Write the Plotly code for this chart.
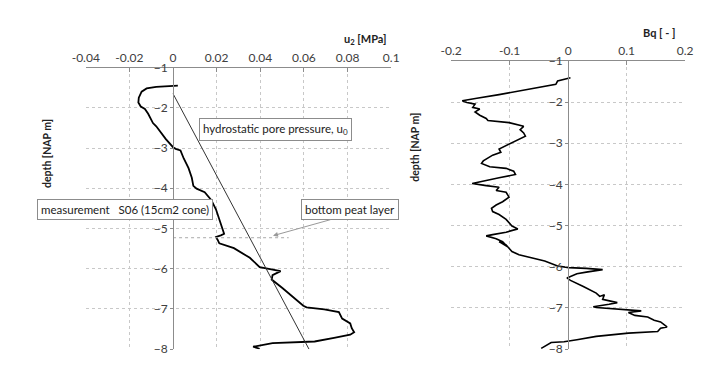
import plotly.graph_objects as go

# left panel: measured pore pressure u2 [MPa] vs depth [NAP m]
u2_vals = [0.0022, 0.0, -0.0077, -0.0121, -0.0144, -0.0157, -0.0159, -0.0148, -0.0129, -0.0114,
           -0.0092, -0.0077, -0.0055, -0.0033, 0.0, 0.0012, 0.0034, 0.0049, 0.0071, 0.0086,
           0.0093, 0.0108, 0.0145, 0.0175, 0.0197, 0.0212, 0.0227, 0.0234, 0.0219, 0.0197,
           0.0204, 0.0212, 0.0279, 0.0352, 0.0397, 0.0434, 0.0493, 0.0456, 0.0452, 0.0501,
           0.0545, 0.0597, 0.0612, 0.0693, 0.076, 0.0775, 0.0812, 0.0819, 0.083, 0.0812,
           0.0738, 0.0649, 0.0456, 0.0397, 0.0367, 0.0397]
u2_depth = [-1.45, -1.46, -1.48, -1.52, -1.60, -1.75, -1.87, -1.97, -2.03, -2.15,
            -2.38, -2.46, -2.62, -2.78, -2.98, -3.02, -3.06, -3.26, -3.50, -3.74,
            -3.94, -4.01, -4.10, -4.29, -4.53, -4.77, -5.01, -5.13, -5.17, -5.21,
            -5.28, -5.37, -5.49, -5.73, -5.96, -6.00, -6.06, -6.16, -6.27, -6.48,
            -6.68, -6.92, -6.96, -7.01, -7.08, -7.24, -7.36, -7.48, -7.58, -7.64,
            -7.72, -7.81, -7.85, -7.91, -7.94, -7.99]

# hydrostatic pore pressure u0
u0_vals = [0.0, 0.0623]
u0_depth = [-1.65, -8.0]

# bottom of peat layer
peat_x = [0.0, 0.053]
peat_depth = [-5.23, -5.23]

# right panel: Bq [-] vs depth
bq_vals = [0.004, -0.018, -0.021, -0.040, -0.073, -0.118, -0.156, -0.181, -0.173, -0.159,
           -0.163, -0.151, -0.159, -0.151, -0.140, -0.137, -0.101, -0.084, -0.076, -0.082,
           -0.076, -0.073, -0.084, -0.096, -0.118, -0.115, -0.129, -0.145, -0.148, -0.134,
           -0.106, -0.093, -0.090, -0.118, -0.145, -0.164, -0.140, -0.118, -0.123, -0.106,
           -0.101, -0.112, -0.123, -0.131, -0.129, -0.118, -0.106, -0.096, -0.086, -0.106,
           -0.129, -0.140, -0.123, -0.112, -0.104, -0.118, -0.106, -0.096, -0.084, -0.062,
           -0.040, -0.018, 0.001, 0.031, 0.059, 0.031, 0.015, -0.002, 0.004, 0.026,
           0.048, 0.054, 0.062, 0.059, 0.084, 0.070, 0.043, 0.048, 0.081, 0.125,
           0.103, 0.114, 0.136, 0.147, 0.158, 0.169, 0.158, 0.153, 0.103, 0.048,
           0.015, -0.007, -0.029, -0.038, -0.046]
bq_depth = [-1.41, -1.49, -1.57, -1.62, -1.72, -1.82, -1.91, -1.97, -2.01, -2.05,
            -2.13, -2.17, -2.24, -2.32, -2.40, -2.45, -2.50, -2.56, -2.59, -2.67,
            -2.75, -2.83, -2.91, -2.98, -3.14, -3.22, -3.29, -3.43, -3.49, -3.57,
            -3.61, -3.68, -3.76, -3.84, -3.92, -3.98, -4.03, -4.07, -4.15, -4.19,
            -4.31, -4.42, -4.50, -4.58, -4.66, -4.73, -4.85, -5.01, -5.08, -5.16,
            -5.22, -5.25, -5.32, -5.39, -5.51, -5.39, -5.47, -5.63, -5.71, -5.78,
            -5.86, -5.98, -6.02, -6.04, -6.07, -6.13, -6.17, -6.27, -6.33, -6.48,
            -6.64, -6.72, -6.68, -6.79, -6.87, -6.91, -6.97, -6.99, -7.03, -7.07,
            -7.11, -7.18, -7.22, -7.30, -7.34, -7.46, -7.49, -7.57, -7.61, -7.69,
            -7.77, -7.82, -7.84, -7.92, -7.98]

u2_ticks = [-0.04, -0.02, 0, 0.02, 0.04, 0.06, 0.08, 0.1]
u2_ticktext = ['-0.04', '-0.02', '0', '0.02', '0.04', '0.06', '0.08', '0.1']
bq_ticks = [-0.2, -0.1, 0, 0.1, 0.2]
bq_ticktext = ['-0.2', '-0.1', '0', '0.1', '0.2']
depth_ticks = [-1, -2, -3, -4, -5, -6, -7, -8]

FONT = 'Lato'
TXT = '#404040'
GRID = '#c8c8c8'
AXL = '#8c8c8c'

dom1 = [0.1018, 0.5351]
dom2 = [0.620, 0.952]
ydom1 = [0.0576, 0.8355]
ydom2 = [0.0576, 0.854]
xr1 = [-0.04, 0.1]
xr2 = [-0.2, 0.2]


def zero_pos(dom, xr):
    # paper position of value 0 on an x axis, where the depth axis crosses
    return dom[0] + (0 - xr[0]) / (xr[1] - xr[0]) * (dom[1] - dom[0])


fig = go.Figure()
fig.add_trace(go.Scatter(x=u2_vals, y=u2_depth, mode='lines', line=dict(color='black', width=1.8),
                         xaxis='x', yaxis='y', showlegend=False))
fig.add_trace(go.Scatter(x=u0_vals, y=u0_depth, mode='lines', line=dict(color='#333333', width=1),
                         xaxis='x', yaxis='y', showlegend=False))
fig.add_trace(go.Scatter(x=peat_x, y=peat_depth, mode='lines', line=dict(color='#aaaaaa', width=1, dash='dot'),
                         xaxis='x', yaxis='y', showlegend=False))
fig.add_trace(go.Scatter(x=bq_vals, y=bq_depth, mode='lines', line=dict(color='black', width=1.6),
                         xaxis='x2', yaxis='y2', showlegend=False))

xcommon = dict(side='top', showline=True, linecolor=AXL, linewidth=1, ticks='inside', ticklen=4,
               tickcolor=AXL, showgrid=True, gridcolor=GRID, griddash='dot', gridwidth=1,
               zeroline=False, tickfont=dict(family=FONT, size=12, color=TXT))
ycommon = dict(range=[-8, -1], tickvals=depth_ticks, showline=True, linecolor=AXL, linewidth=1,
               ticks='outside', ticklen=3, tickcolor=AXL, showgrid=True, gridcolor=GRID,
               griddash='dot', zeroline=False, anchor='free',
               tickfont=dict(family=FONT, size=12, color=TXT))

fig.update_layout(
    width=727, height=377,
    margin=dict(l=0, r=0, t=0, b=0),
    paper_bgcolor='white', plot_bgcolor='white',
    xaxis=dict(domain=dom1, range=xr1, tickvals=u2_ticks, ticktext=u2_ticktext, anchor='y', **xcommon),
    yaxis=dict(domain=ydom1, position=zero_pos(dom1, xr1), **ycommon),
    xaxis2=dict(domain=dom2, range=xr2, tickvals=bq_ticks, ticktext=bq_ticktext, anchor='y2', **xcommon),
    yaxis2=dict(domain=ydom2, position=zero_pos(dom2, xr2), **ycommon),
)

box = dict(bordercolor='#8c8c8c', borderwidth=1, bgcolor='white', borderpad=3,
           font=dict(family=FONT, size=11.5, color='#222222'), showarrow=False,
           xanchor='center', yanchor='middle')
fig.add_annotation(x=0.047, y=-2.55, xref='x', yref='y', text='hydrostatic pore pressure, u<sub>0</sub>', **box)
fig.add_annotation(x=-0.0218, y=-4.53, xref='x', yref='y', text='measurement   S06 (15cm2 cone)', **box)
fig.add_annotation(x=0.081, y=-4.53, xref='x', yref='y', text='bottom peat layer', **box)
fig.add_annotation(x=0.0458, y=-5.18, xref='x', yref='y', ax=0.0729, ay=-4.77, axref='x', ayref='y',
                   text='', showarrow=True, arrowhead=2, arrowsize=1, arrowwidth=1, arrowcolor='#999999')

title_font = dict(family=FONT, size=11, color='#222222')
fig.add_annotation(x=387 / 727, y=1 - 33 / 377, xref='paper', yref='paper', xanchor='right', yanchor='middle',
                   text='<b>u<sub>2</sub> [MPa]</b>', showarrow=False, font=title_font)
fig.add_annotation(x=684 / 727, y=1 - 26 / 377, xref='paper', yref='paper', xanchor='right', yanchor='middle',
                   text='<b>Bq [ - ]</b>', showarrow=False, font=title_font)
ylab_font = dict(family=FONT, size=10.5, color='#222222')
fig.add_annotation(x=34 / 727, y=1 - 151 / 377, xref='paper', yref='paper', textangle=-90,
                   xanchor='center', yanchor='middle',
                   text='<b>depth [NAP m]</b>', showarrow=False, font=ylab_font)
fig.add_annotation(x=414 / 727, y=1 - 145 / 377, xref='paper', yref='paper', textangle=-90,
                   xanchor='center', yanchor='middle',
                   text='<b>depth [NAP m]</b>', showarrow=False, font=ylab_font)

fig.write_html("out.html", config={'displayModeBar': False},
               post_script="document.body.style.margin='0';")
